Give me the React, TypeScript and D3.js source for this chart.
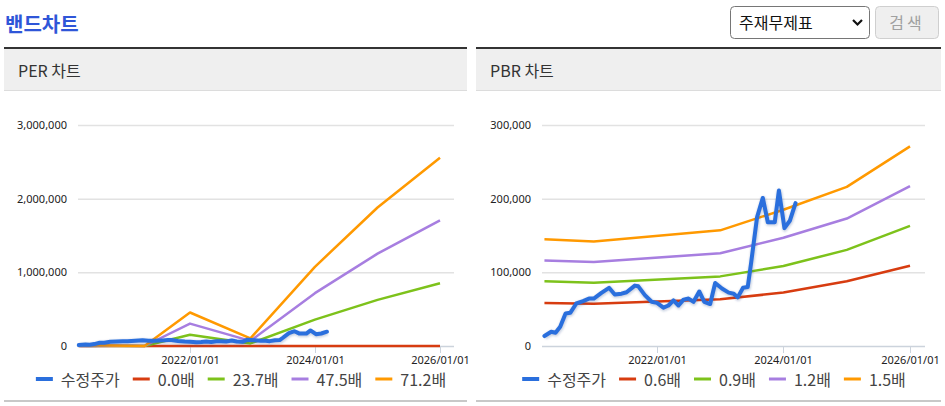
import { useEffect, useRef } from "react";
import * as d3 from "d3";

// 수정주가 (same series on both charts)
const priceDates = [
  "2020-03-22", "2020-04-30", "2020-05-25", "2020-06-21", "2020-07-22", "2020-08-18",
  "2020-09-22", "2020-10-31", "2020-12-04", "2021-01-01", "2021-02-14", "2021-03-30",
  "2021-05-02", "2021-06-10", "2021-07-09", "2021-08-26", "2021-09-15", "2021-10-23",
  "2021-12-01", "2022-01-01", "2022-02-07", "2022-03-08", "2022-04-06", "2022-05-05",
  "2022-06-03", "2022-07-02", "2022-07-31", "2022-09-02", "2022-10-01", "2022-11-04",
  "2022-12-03", "2023-01-11", "2023-02-19", "2023-03-20", "2023-04-12", "2023-05-13",
  "2023-06-09", "2023-06-28", "2023-08-02", "2023-09-04", "2023-10-03", "2023-11-12",
  "2023-12-06", "2024-01-07", "2024-02-07", "2024-03-11",
];
const priceValues = [
  13500, 19300, 18000, 26000, 44000, 45000,
  57700, 61000, 64400, 64400, 72000, 79000,
  70000, 71000, 73000, 82000, 81000, 69000,
  60000, 58500, 52000, 55000, 62000, 55000,
  63000, 64400, 60000, 74000, 60000, 57000,
  85500, 78000, 72500, 71000, 66000, 79000,
  80000, 112000, 175000, 201000, 168000, 168000,
  211000, 160000, 170000, 194000,
];

// PER bands
const perDates = ["2020-03-22", "2021-04-10", "2022-01-01", "2022-12-20", "2024-01-01", "2025-01-01", "2026-01-01"];
const per00 = [0, 0, 0, 0, 0, 0, 0];
const per237 = [5000, 0, 152000, 35000, 358000, 626000, 851000];
const per475 = [10000, 0, 304000, 69000, 717000, 1254000, 1705000];
const per712 = [15000, 0, 455000, 104000, 1075000, 1880000, 2555000];

// PBR bands
const pbrDates = ["2020-03-22", "2021-01-01", "2023-01-01", "2024-01-01", "2025-01-01", "2026-01-01"];
const pbr06 = [58500, 57500, 63500, 72500, 87800, 109000];
const pbr09 = [88000, 86000, 94500, 108500, 130500, 163000];
const pbr12 = [116000, 114000, 126000, 147000, 173000, 217000];
const pbr15 = [145000, 142000, 157000, 185000, 216000, 271000];

const perLegend = ["수정주가", "0.0배", "23.7배", "47.5배", "71.2배"];
const pbrLegend = ["수정주가", "0.6배", "0.9배", "1.2배", "1.5배"];
const perTicks = [0, 1000000, 2000000, 3000000];
const pbrTicks = [0, 100000, 200000, 300000];
const xTicks = ["2022-01-01", "2024-01-01", "2026-01-01"];

const colors = ["#2a6fdd", "#d73c10", "#7dc21b", "#a77ee0", "#ff9900"];
const FONT = "'Noto Sans CJK KR', 'Noto Sans', sans-serif";
const NUM_FONT = "'Noto Sans', 'DejaVu Sans', sans-serif";

const parse = d3.timeParse("%Y-%m-%d");

function drawPanel(svg, cfg) {
  const { x0, x1, gridX0, gridX1, tick0, tick1, title, yTicks, bandDates, bands, legend } = cfg;

  // panel header
  svg.append("rect").attr("x", x0).attr("y", 47).attr("width", x1 - x0).attr("height", 2).attr("fill", "#333");
  svg.append("rect").attr("x", x0).attr("y", 49).attr("width", x1 - x0).attr("height", 41).attr("fill", "#efefef");
  svg.append("rect").attr("x", x0).attr("y", 90).attr("width", x1 - x0).attr("height", 1).attr("fill", "#dcdcdc");
  svg.append("text")
    .attr("x", x0 + 14)
    .attr("y", 77)
    .style("font-family", FONT)
    .style("font-size", "16px")
    .attr("fill", "#333")
    .text(title);

  const x = d3.scaleTime()
    .domain([parse(xTicks[0]), parse(xTicks[2])])
    .range([tick0, tick1]);
  const y = d3.scaleLinear()
    .domain([yTicks[0], yTicks[yTicks.length - 1]])
    .range([346, 125]);

  // grid + y labels
  yTicks.forEach((t) => {
    svg.append("line")
      .attr("x1", gridX0).attr("x2", gridX1)
      .attr("y1", y(t) + 0.5).attr("y2", y(t) + 0.5)
      .attr("stroke", t === 0 ? "#ccd3dc" : "#e2e2e2")
      .attr("stroke-width", 1.5);
    svg.append("text")
      .attr("x", gridX0 - 11)
      .attr("y", y(t) + 4)
      .attr("text-anchor", "end")
      .style("font-family", NUM_FONT)
      .style("font-size", "11px")
      .attr("fill", "#222")
      .text(d3.format(",")(t));
  });

  // x ticks
  xTicks.forEach((d) => {
    const px = Math.round(x(parse(d))) + 0.5;
    svg.append("line")
      .attr("x1", px).attr("x2", px)
      .attr("y1", 346).attr("y2", 353)
      .attr("stroke", "#ccd3dc");
    svg.append("text")
      .attr("x", px)
      .attr("y", 364)
      .attr("text-anchor", "middle")
      .style("font-family", NUM_FONT)
      .style("font-size", "11px")
      .attr("fill", "#222")
      .text(d.replace(/-/g, "/"));
  });

  // band lines
  const line = d3.line()
    .x((d) => x(d[0]))
    .y((d) => y(d[1]));
  bands.forEach((vals, i) => {
    const pts = bandDates.map((d, j) => [parse(d), vals[j]]);
    svg.append("path")
      .attr("d", line(pts))
      .attr("fill", "none")
      .attr("stroke", colors[i + 1])
      .attr("stroke-width", 2.5)
      .attr("stroke-linejoin", "round");
  });

  // price line (with a soft shadow)
  const pricePts = priceDates.map((d, j) => [parse(d), priceValues[j]]);
  svg.append("path")
    .attr("d", line(pricePts))
    .attr("fill", "none")
    .attr("stroke", "#1a3f80")
    .attr("stroke-opacity", 0.25)
    .attr("stroke-width", 5)
    .attr("transform", "translate(0.5,1)")
    .attr("filter", "url(#blur)")
    .attr("stroke-linejoin", "round");
  svg.append("path")
    .attr("d", line(pricePts))
    .attr("fill", "none")
    .attr("stroke", colors[0])
    .attr("stroke-width", 4)
    .attr("stroke-linejoin", "round")
    .attr("stroke-linecap", "round");

  // legend
  const lg = svg.append("g");
  let cx = 0;
  legend.forEach((name, i) => {
    lg.append("line")
      .attr("x1", cx).attr("x2", cx + 17)
      .attr("y1", 379).attr("y2", 379)
      .attr("stroke", colors[i])
      .attr("stroke-width", i === 0 ? 4 : 3);
    const t = lg.append("text")
      .attr("x", cx + 25)
      .attr("y", 386)
      .style("font-family", FONT)
      .style("font-size", "16px")
      .attr("fill", "#444")
      .text(name);
    cx += 25 + t.node().getComputedTextLength() + 13;
  });
  const lgWidth = cx - 13;
  const center = (x0 + x1) / 2 + 5.5;
  lg.attr("transform", `translate(${center - lgWidth / 2},0)`);

  // bottom rule
  svg.append("rect").attr("x", x0).attr("y", 400).attr("width", x1 - x0).attr("height", 2).attr("fill", "#c8c8c8");
}

export default function App() {
  const svgRef = useRef(null);

  useEffect(() => {
    const svg = d3.select(svgRef.current);
    svg.selectAll("*").remove();

    svg.append("defs")
      .append("filter")
      .attr("id", "blur")
      .append("feGaussianBlur")
      .attr("stdDeviation", 1);

    // page title
    svg.append("text")
      .attr("x", 5)
      .attr("y", 32)
      .style("font-family", FONT)
      .style("font-size", "20px")
      .style("font-weight", "bold")
      .attr("fill", "#2f56d8")
      .text("밴드차트");

    // select box
    svg.append("rect")
      .attr("x", 730.5).attr("y", 6.5).attr("width", 139).attr("height", 32).attr("rx", 4)
      .attr("fill", "#fff").attr("stroke", "#767676");
    svg.append("text")
      .attr("x", 739).attr("y", 29)
      .style("font-family", FONT)
      .style("font-size", "16px")
      .attr("fill", "#111")
      .text("주재무제표");
    svg.append("path")
      .attr("d", "M853,20 L857.5,24.5 L862,20")
      .attr("fill", "none")
      .attr("stroke", "#111")
      .attr("stroke-width", 2.2);

    // button
    svg.append("rect")
      .attr("x", 875.5).attr("y", 6.5).attr("width", 63).attr("height", 32).attr("rx", 4)
      .attr("fill", "#efefef").attr("stroke", "#cfcfcf");
    svg.append("text")
      .attr("x", 907).attr("y", 29)
      .attr("text-anchor", "middle")
      .style("font-family", FONT)
      .style("font-size", "16px")
      .style("letter-spacing", "3px")
      .attr("fill", "#a0a0a0")
      .text("검색");

    drawPanel(svg, {
      x0: 4, x1: 467, gridX0: 78, gridX1: 454, tick0: 190, tick1: 440,
      title: "PER 차트", yTicks: perTicks, bandDates: perDates,
      bands: [per00, per237, per475, per712], legend: perLegend,
    });
    drawPanel(svg, {
      x0: 476, x1: 941, gridX0: 542, gridX1: 925, tick0: 657, tick1: 910,
      title: "PBR 차트", yTicks: pbrTicks, bandDates: pbrDates,
      bands: [pbr06, pbr09, pbr12, pbr15], legend: pbrLegend,
    });
  }, []);

  return (
    <svg
      ref={svgRef}
      width={945}
      height={406}
      style={{ position: "absolute", left: 0, top: 0, background: "#fff", display: "block" }}
    />
  );
}
